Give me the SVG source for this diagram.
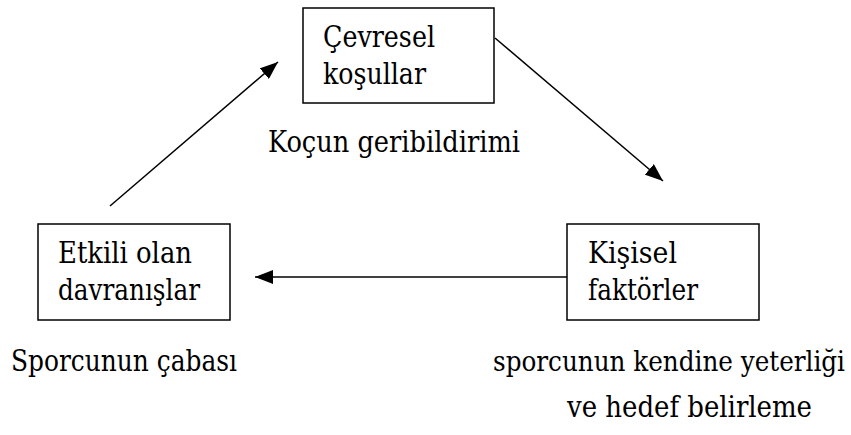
<svg xmlns="http://www.w3.org/2000/svg" width="851" height="435" viewBox="0 0 851 435">
<style>
text{font-family:"DejaVu Serif Condensed","DejaVu Serif",serif;font-stretch:condensed;font-size:29px;fill:#000}
.box{fill:#fff;stroke:#000;stroke-width:1.5}
.conn{stroke:#000;stroke-width:1.5;fill:none}
</style>
<defs>
<marker id="ah" markerUnits="userSpaceOnUse" markerWidth="20" markerHeight="14" refX="18" refY="7" orient="auto">
<path d="M0,0 L18,7 L0,14 Z" fill="#000"/>
</marker>
</defs>
<rect width="851" height="435" fill="#fff"/>
<g id="connectors">
<line class="conn" x1="110" y1="206" x2="278" y2="62" marker-end="url(#ah)"/>
<line class="conn" x1="495" y1="38" x2="663" y2="181" marker-end="url(#ah)"/>
<line class="conn" x1="567" y1="277" x2="255" y2="277" marker-end="url(#ah)"/>
</g>
<g id="cevresel">
<rect class="box" x="303" y="8" width="191" height="95"/>
<text x="323" y="47" textLength="112" lengthAdjust="spacingAndGlyphs">Çevresel</text>
<text x="323" y="84" textLength="103" lengthAdjust="spacingAndGlyphs">koşullar</text>
</g>
<g id="etkili">
<rect class="box" x="38" y="224" width="192" height="96"/>
<text x="58" y="263" textLength="134" lengthAdjust="spacingAndGlyphs">Etkili olan</text>
<text x="58" y="300" textLength="142" lengthAdjust="spacingAndGlyphs">davranışlar</text>
</g>
<g id="kisisel">
<rect class="box" x="567" y="224" width="192" height="96"/>
<text x="588" y="263" textLength="89" lengthAdjust="spacingAndGlyphs">Kişisel</text>
<text x="588" y="300" textLength="110" lengthAdjust="spacingAndGlyphs">faktörler</text>
</g>
<g id="labels">
<text x="268" y="152" textLength="252" lengthAdjust="spacingAndGlyphs">Koçun geribildirimi</text>
<text x="11" y="371" textLength="226" lengthAdjust="spacingAndGlyphs">Sporcunun çabası</text>
<text x="493" y="371" style="font-size:27.2px" textLength="352" lengthAdjust="spacingAndGlyphs">sporcunun kendine yeterliği</text>
<text x="567" y="417" textLength="245" lengthAdjust="spacingAndGlyphs">ve hedef belirleme</text>
</g>
</svg>
